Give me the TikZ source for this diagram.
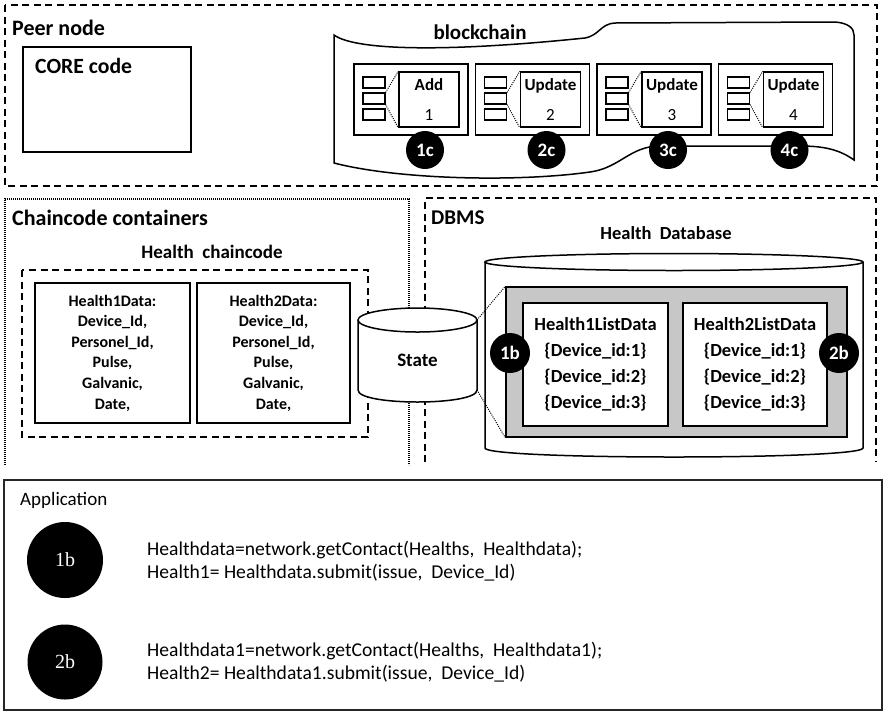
\documentclass[tikz,border=0pt]{standalone}
\usepackage{fontspec}
\setmainfont{Carlito}
\newfontfamily\badgeserif{Liberation Serif}
\begin{document}
\begin{tikzpicture}[x=1pt,y=-1pt,
  groupline/.style={draw, line width=1.5pt, dash pattern=on 7pt off 4.5pt},
  dotframe/.style={draw, line width=1.3pt, dash pattern=on 0.9pt off 1.1pt},
  box/.style={draw, line width=1.6pt, fill=white, inner sep=0pt},
  slot/.style={draw, line width=1.2pt, fill=white, minimum width=22pt, minimum height=11pt, inner sep=0pt},
  dotline/.style={line width=1pt, dash pattern=on 1pt off 1.2pt},
  badge/.style={circle, fill=black, text=white, inner sep=0pt, minimum size=38pt,
    font=\bfseries\fontsize{19}{19}\selectfont},
  bigbadge/.style={circle, fill=black, text=white, inner sep=0pt, minimum size=76pt,
    font=\badgeserif\fontsize{20}{20}\selectfont},
  title/.style={anchor=west, inner sep=0pt, font=\bfseries\fontsize{22}{22}\selectfont},
  code/.style={anchor=west, inner sep=0pt, font=\fontsize{19.6}{19.6}\selectfont}]
\useasboundingbox (0,0) rectangle (885,713);

% ---------------- Peer node ----------------
\draw[groupline] (5,5) rectangle (877,186);
\node[title] (peer) at (12,28) {Peer node};
\node[box, line width=1.8pt, minimum width=168pt, minimum height=105pt] (core) at (107,99.5) {};
\node[title, font=\bfseries\fontsize{21.7}{21.7}\selectfont] (coretitle) at (35,66) {CORE code};

% ledger tape
\draw[line width=1.5pt, fill=white]
  (334,35) .. controls (356,51) and (450,52) .. (585,38)
  .. controls (600,35) and (600,24) .. (615,23) -- (835,22)
  .. controls (848,23) and (854,28) .. (854,35) -- (854,160)
  .. controls (840,150) and (825,146) .. (800,146) -- (660,146)
  .. controls (630,146) and (620,168) .. (590,172)
  .. controls (520,182) and (400,180) .. (334,163) -- cycle;
\node[font=\bfseries\fontsize{21}{21}\selectfont, inner sep=0pt] (chain) at (480,32) {blockchain};

\foreach \i/\op/\n in {0/Add/1,1/Update/2,2/Update/3,3/Update/4}{
  \pgfmathsetmacro\L{354+121.5*\i}
  \node[box, line width=1.5pt, minimum width=114pt, minimum height=71pt] (blk\n) at (\L+57,99.5) {};
  \node[slot] (slot\n-a) at (\L+20,82.5) {};
  \node[slot] (slot\n-b) at (\L+20,98.5) {};
  \node[slot] (slot\n-c) at (\L+20,114.5) {};
  \node[box, line width=1.5pt, minimum width=60pt, minimum height=55pt, align=center,
        font=\fontsize{17}{30}\selectfont] (tx\n) at (\L+75,99.5) {\textbf{\op}\\\n};
  \draw[dotline] (slot\n-b.north east) -- (tx\n.north west);
  \draw[dotline] (slot\n-b.south east) -- (tx\n.south west);
  \node[badge] (c\n) at (\L+71,150) {\n c};
}

% ---------------- Chaincode containers ----------------
\draw[dotframe] (5,465) -- (5,199) -- (409,199) -- (409,465);
\node[title] (cc) at (12,218) {Chaincode containers};
\node[font=\bfseries\fontsize{19}{19}\selectfont, inner sep=0pt] (hcc) at (212,252) {Health\ \ chaincode};
\draw[groupline] (22,270) rectangle (368,437);
\node[box, line width=1.8pt, minimum width=155pt, minimum height=140pt, align=center,
      font=\bfseries\fontsize{16}{20.6}\selectfont] (hd1) at (112.5,353)
  {Health1Data:\\Device\_Id,\\Personel\_Id,\\Pulse,\\Galvanic,\\Date,};
\node[box, line width=1.8pt, minimum width=153pt, minimum height=140pt, align=center,
      font=\bfseries\fontsize{16}{20.6}\selectfont] (hd2) at (273.5,353)
  {Health2Data:\\Device\_Id,\\Personel\_Id,\\Pulse,\\Galvanic,\\Date,};

% ---------------- DBMS ----------------
\draw[groupline] (425,462) -- (425,198) -- (876,198) -- (876,462);
\node[title, font=\bfseries\fontsize{21}{21}\selectfont] (dbms) at (431,218) {DBMS};
\node[font=\bfseries\fontsize{18.5}{18.5}\selectfont, inner sep=0pt] (hdb) at (666,233) {Health\ \ Database};

% database cylinder
\draw[line width=1.5pt, fill=white]
  (485,262) -- (485,448) .. controls (485,460) and (863,460) .. (863,448) -- (863,262);
\draw[line width=1.5pt, fill=white] (674,262) ellipse[x radius=189, y radius=8.5];

\node[draw, line width=1.4pt, fill=black!22, minimum width=341pt, minimum height=150pt, inner sep=0pt]
  (frame) at (676.5,362) {};
\node[box, line width=1.5pt, minimum width=145pt, minimum height=123pt, align=center,
      font=\bfseries\fontsize{18.5}{26}\selectfont] (l1) at (595.5,364.5)
  {Health1ListData\\\{Device\_id:1\}\\\{Device\_id:2\}\\\{Device\_id:3\}};
\node[box, line width=1.5pt, minimum width=144pt, minimum height=123pt, align=center,
      font=\bfseries\fontsize{18.5}{26}\selectfont] (l2) at (755,364.5)
  {Health2ListData\\\{Device\_id:1\}\\\{Device\_id:2\}\\\{Device\_id:3\}};
\node[badge, minimum size=40pt] (b1) at (510,353) {1b};
\node[badge, minimum size=40pt] (b2) at (839,353) {2b};

% world state cylinder
\draw[line width=1.5pt, fill=white]
  (358,320) -- (358,390) .. controls (358,406) and (477,406) .. (477,390) -- (477,320);
\draw[line width=1.5pt, fill=white] (417.5,320) ellipse[x radius=59.5, y radius=12];
\node[font=\bfseries\fontsize{19}{19}\selectfont, inner sep=0pt] (state) at (417.5,360) {State};
\coordinate (stateTop) at (477,320);
\coordinate (stateBot) at (477,390);
\draw[dotline] (stateTop) -- (frame.north west);
\draw[dotline] (stateBot) -- (frame.south west);

% ---------------- Application ----------------
\draw[line width=1.6pt, draw=black!85, fill=white] (4,480) rectangle (882,710);
\node[anchor=west, inner sep=0pt, font=\fontsize{19}{19}\selectfont] (app) at (20,500) {Application};
\node[bigbadge] (a1) at (65,560) {1b};
\node[bigbadge, minimum size=75pt] (a2) at (65,662) {2b};
\node[code] (l1a) at (147,550) {Healthdata=network.getContact(Healths,\ \ Healthdata);};
\node[code] (l1b) at (147,573) {Health1= Healthdata.submit(issue,\ \ Device\_Id)};
\node[code] (l2a) at (147,651) {Healthdata1=network.getContact(Healths,\ \ Healthdata1);};
\node[code] (l2b) at (147,674) {Health2= Healthdata1.submit(issue,\ \ Device\_Id)};
\end{tikzpicture}
\end{document}
